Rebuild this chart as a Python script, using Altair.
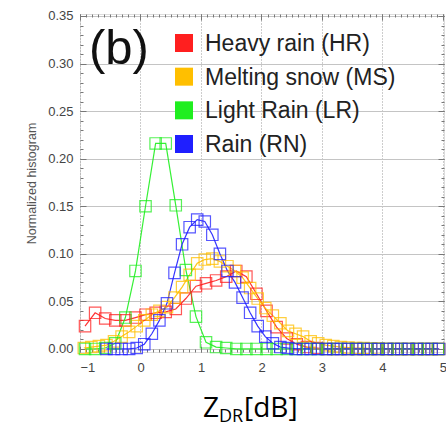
import altair as alt
import pandas as pd

# ---------------- data ----------------
series_names = ["Heavy rain (HR)", "Melting snow (MS)", "Light Rain (LR)", "Rain (RN)"]
series_colors = ["#ff1f1f", "#ffbf00", "#1fee1f", "#1f1fff"]

# bin centres (1/6 dB bins)
x_coarse = [-0.917, -0.75, -0.583, -0.417, -0.25, -0.083, 0.083, 0.25, 0.417, 0.583,
            0.75, 0.917, 1.083, 1.25, 1.417, 1.583, 1.75, 1.917, 2.083, 2.25,
            2.417, 2.583, 2.75, 2.917, 3.083, 3.25, 3.417, 3.583, 3.75, 3.917,
            4.083, 4.25, 4.417, 4.583, 4.75, 4.917]
# bin centres (0.125 dB bins)
x_fine = [-0.9375, -0.8125, -0.6875, -0.5625, -0.4375, -0.3125, -0.1875, -0.0625,
          0.0625, 0.1875, 0.3125, 0.4375, 0.5625, 0.6875, 0.8125, 0.9375,
          1.0625, 1.1875, 1.3125, 1.4375, 1.5625, 1.6875, 1.8125, 1.9375,
          2.0625, 2.1875, 2.3125, 2.4375, 2.5625, 2.6875, 2.8125, 2.9375,
          3.0625, 3.1875, 3.3125, 3.4375, 3.5625, 3.6875, 3.8125, 3.9375,
          4.0625, 4.1875, 4.3125, 4.4375, 4.5625, 4.6875, 4.8125, 4.9375]

hr_values = [0.024, 0.038, 0.032, 0.030, 0.030, 0.033, 0.036, 0.038, 0.039, 0.042,
             0.053, 0.066, 0.069, 0.072, 0.076, 0.082, 0.076, 0.058, 0.040, 0.023,
             0.011, 0.005, 0.002, 0.001, 0.0, 0.0, 0.0, 0.0, 0.0, 0.0,
             0.0, 0.0, 0.0, 0.0, 0.0, 0.0]
ms_values = [0.001, 0.002, 0.003, 0.004, 0.008, 0.013, 0.018, 0.024, 0.030, 0.036,
             0.040, 0.044, 0.054, 0.065, 0.078, 0.090, 0.094, 0.095, 0.092, 0.087,
             0.082, 0.075, 0.064, 0.053, 0.043, 0.035, 0.027, 0.019, 0.016, 0.013,
             0.008, 0.006, 0.004, 0.003, 0.002, 0.0015, 0.001, 0.001, 0.0005, 0.0005,
             0.0, 0.0, 0.0, 0.0, 0.0, 0.0, 0.0, 0.0]
lr_values = [0.000, 0.000, 0.001, 0.006, 0.033, 0.082, 0.150, 0.216, 0.216, 0.151,
             0.083, 0.034, 0.007, 0.002, 0.001, 0.0, 0.0, 0.0, 0.0, 0.0,
             0.0, 0.0, 0.0, 0.0, 0.0, 0.0, 0.0, 0.0, 0.0, 0.0,
             0.0, 0.0, 0.0, 0.0, 0.0, 0.0]
rn_x = x_fine[3:]
rn_values = [0.0, 0.0, 0.0, 0.0, 0.001, 0.005, 0.016, 0.030, 0.048, 0.080,
             0.110, 0.128, 0.136, 0.134, 0.120, 0.100, 0.082, 0.070, 0.054, 0.038,
             0.024, 0.013, 0.006, 0.002, 0.001, 0.0, 0.0, 0.0, 0.0, 0.0,
             0.0, 0.0, 0.0, 0.0, 0.0, 0.0, 0.0, 0.0, 0.0, 0.0,
             0.0, 0.0, 0.0, 0.0, 0.0]

x_ticks = [-1, 0, 1, 2, 3, 4, 5]
y_ticks = [0.0, 0.05, 0.10, 0.15, 0.20, 0.25, 0.30, 0.35]
x_minor = [round(-1 + i * 0.1, 2) for i in range(61)]
y_minor = [round(i * 0.01, 2) for i in range(36)]

panel_label = "(b)"
y_title = "Normalized histogram"
xlab_main = "Z"
xlab_sub = "DR"
xlab_unit = "[dB]"

# ---------------- table ----------------
rows = []
for name, xs_, vs_ in [(series_names[0], x_coarse, hr_values),
                       (series_names[1], x_fine, ms_values),
                       (series_names[2], x_coarse, lr_values),
                       (series_names[3], rn_x, rn_values)]:
    for xv, vv in zip(xs_, vs_):
        rows.append({"x": xv, "v": vv, "s": name})
df = pd.DataFrame(rows)
legend_df = pd.DataFrame({"s": series_names})

FONT = "Liberation Sans"
W, H = 364, 338
xs = alt.Scale(domain=[-1, 5.017], nice=False, zero=False)
ys = alt.Scale(domain=[-0.0032, 0.3521], nice=False, zero=False)
cs = alt.Scale(domain=series_names, range=series_colors)

base = alt.Chart(df)

main_x = alt.Axis(values=x_ticks, format="d", ticks=False, domain=False, grid=True,
                  gridColor="#9a9a9a", gridDash=[1, 2], gridWidth=1,
                  labelFont=FONT, labelFontSize=13, labelColor="#444", labelPadding=9,
                  title=None)
main_y = alt.Axis(values=y_ticks, format=".2f", ticks=False, domain=False, grid=True,
                  gridColor="#c4c4c4", gridWidth=1,
                  labelFont=FONT, labelFontSize=13, labelColor="#444", labelPadding=7,
                  title=y_title, titleFont=FONT, titleFontSize=12.5, titleFontWeight="normal",
                  titleColor="#555", titlePadding=9)

lines = base.mark_line(strokeWidth=1.2, opacity=0.9).encode(
    x=alt.X("x:Q", scale=xs, axis=main_x),
    y=alt.Y("v:Q", scale=ys, axis=main_y),
    color=alt.Color("s:N", scale=cs, legend=None),
)
points = base.mark_point(shape="square", filled=False, size=130, strokeWidth=1.2, opacity=0.75).encode(
    x=alt.X("x:Q", scale=xs, axis=None),
    y=alt.Y("v:Q", scale=ys, axis=None),
    color=alt.Color("s:N", scale=cs, legend=None),
)


def tick_layer(xvals, yvals, xorient, yorient, size):
    return base.mark_point(opacity=0).encode(
        x=alt.X("x:Q", scale=xs, axis=alt.Axis(orient=xorient, values=xvals, labels=False, domain=False,
                                                grid=False, tickSize=size, offset=-size,
                                                tickColor="#777", tickWidth=1, title=None)),
        y=alt.Y("v:Q", scale=ys, axis=alt.Axis(orient=yorient, values=yvals, labels=False, domain=False,
                                                grid=False, tickSize=size, offset=-size,
                                                tickColor="#777", tickWidth=1, title=None)),
    )


t1 = tick_layer(x_ticks, y_ticks, "bottom", "left", 6)
t2 = tick_layer(x_minor, y_minor, "bottom", "left", 3)
t3 = tick_layer(x_ticks, y_ticks, "top", "right", 6)
t4 = tick_layer(x_minor, y_minor, "top", "right", 3)

# legend drawn as marks: rows placed by a point scale over the series names
legend_y = alt.Y("s:N", sort=series_names, axis=None,
                 scale=alt.Scale(type="point", domain=series_names, range=[29, 130], padding=0))
leg_sym = alt.Chart(legend_df).mark_square(filled=True, size=324, opacity=1).encode(
    x=alt.value(104), y=legend_y,
    color=alt.Color("s:N", scale=cs, legend=None),
)
leg_txt = alt.Chart(legend_df).mark_text(
    font=FONT, fontSize=23, align="left", baseline="middle", color="#222", dy=1
).encode(x=alt.value(125), y=legend_y, text="s:N")

panel = alt.Chart(pd.DataFrame({"t": [panel_label]})).mark_text(
    font=FONT, fontSize=49, align="left", baseline="alphabetic", color="#111"
).encode(text="t:N", x=alt.value(9), y=alt.value(50))

xl1 = alt.Chart(pd.DataFrame({"t": [xlab_main]})).mark_text(
    font="Open Sans", fontSize=28, align="left", baseline="alphabetic", color="#000"
).encode(text="t:N", x=alt.value(123), y=alt.value(403))
xl2 = alt.Chart(pd.DataFrame({"t": [xlab_sub]})).mark_text(
    font="Open Sans", fontSize=18, align="left", baseline="alphabetic", color="#000"
).encode(text="t:N", x=alt.value(139), y=alt.value(408))
xl3 = alt.Chart(pd.DataFrame({"t": [xlab_unit]})).mark_text(
    font="Open Sans", fontSize=28, align="left", baseline="alphabetic", color="#000"
).encode(text="t:N", x=alt.value(164), y=alt.value(403))

chart = alt.layer(lines, points, t1, t2, t3, t4, leg_sym, leg_txt, panel, xl1, xl2, xl3).resolve_scale(
    x="independent", y="independent"
).properties(
    width=W, height=H,
    autosize=alt.AutoSizeParams(type="none"),
    padding={"left": 80, "top": 14, "right": 2, "bottom": 74},
).configure_view(stroke="#8a8a8a", strokeWidth=1).configure(background="white")

chart.save("out.html", embed_options={"renderer": "svg", "actions": False})
